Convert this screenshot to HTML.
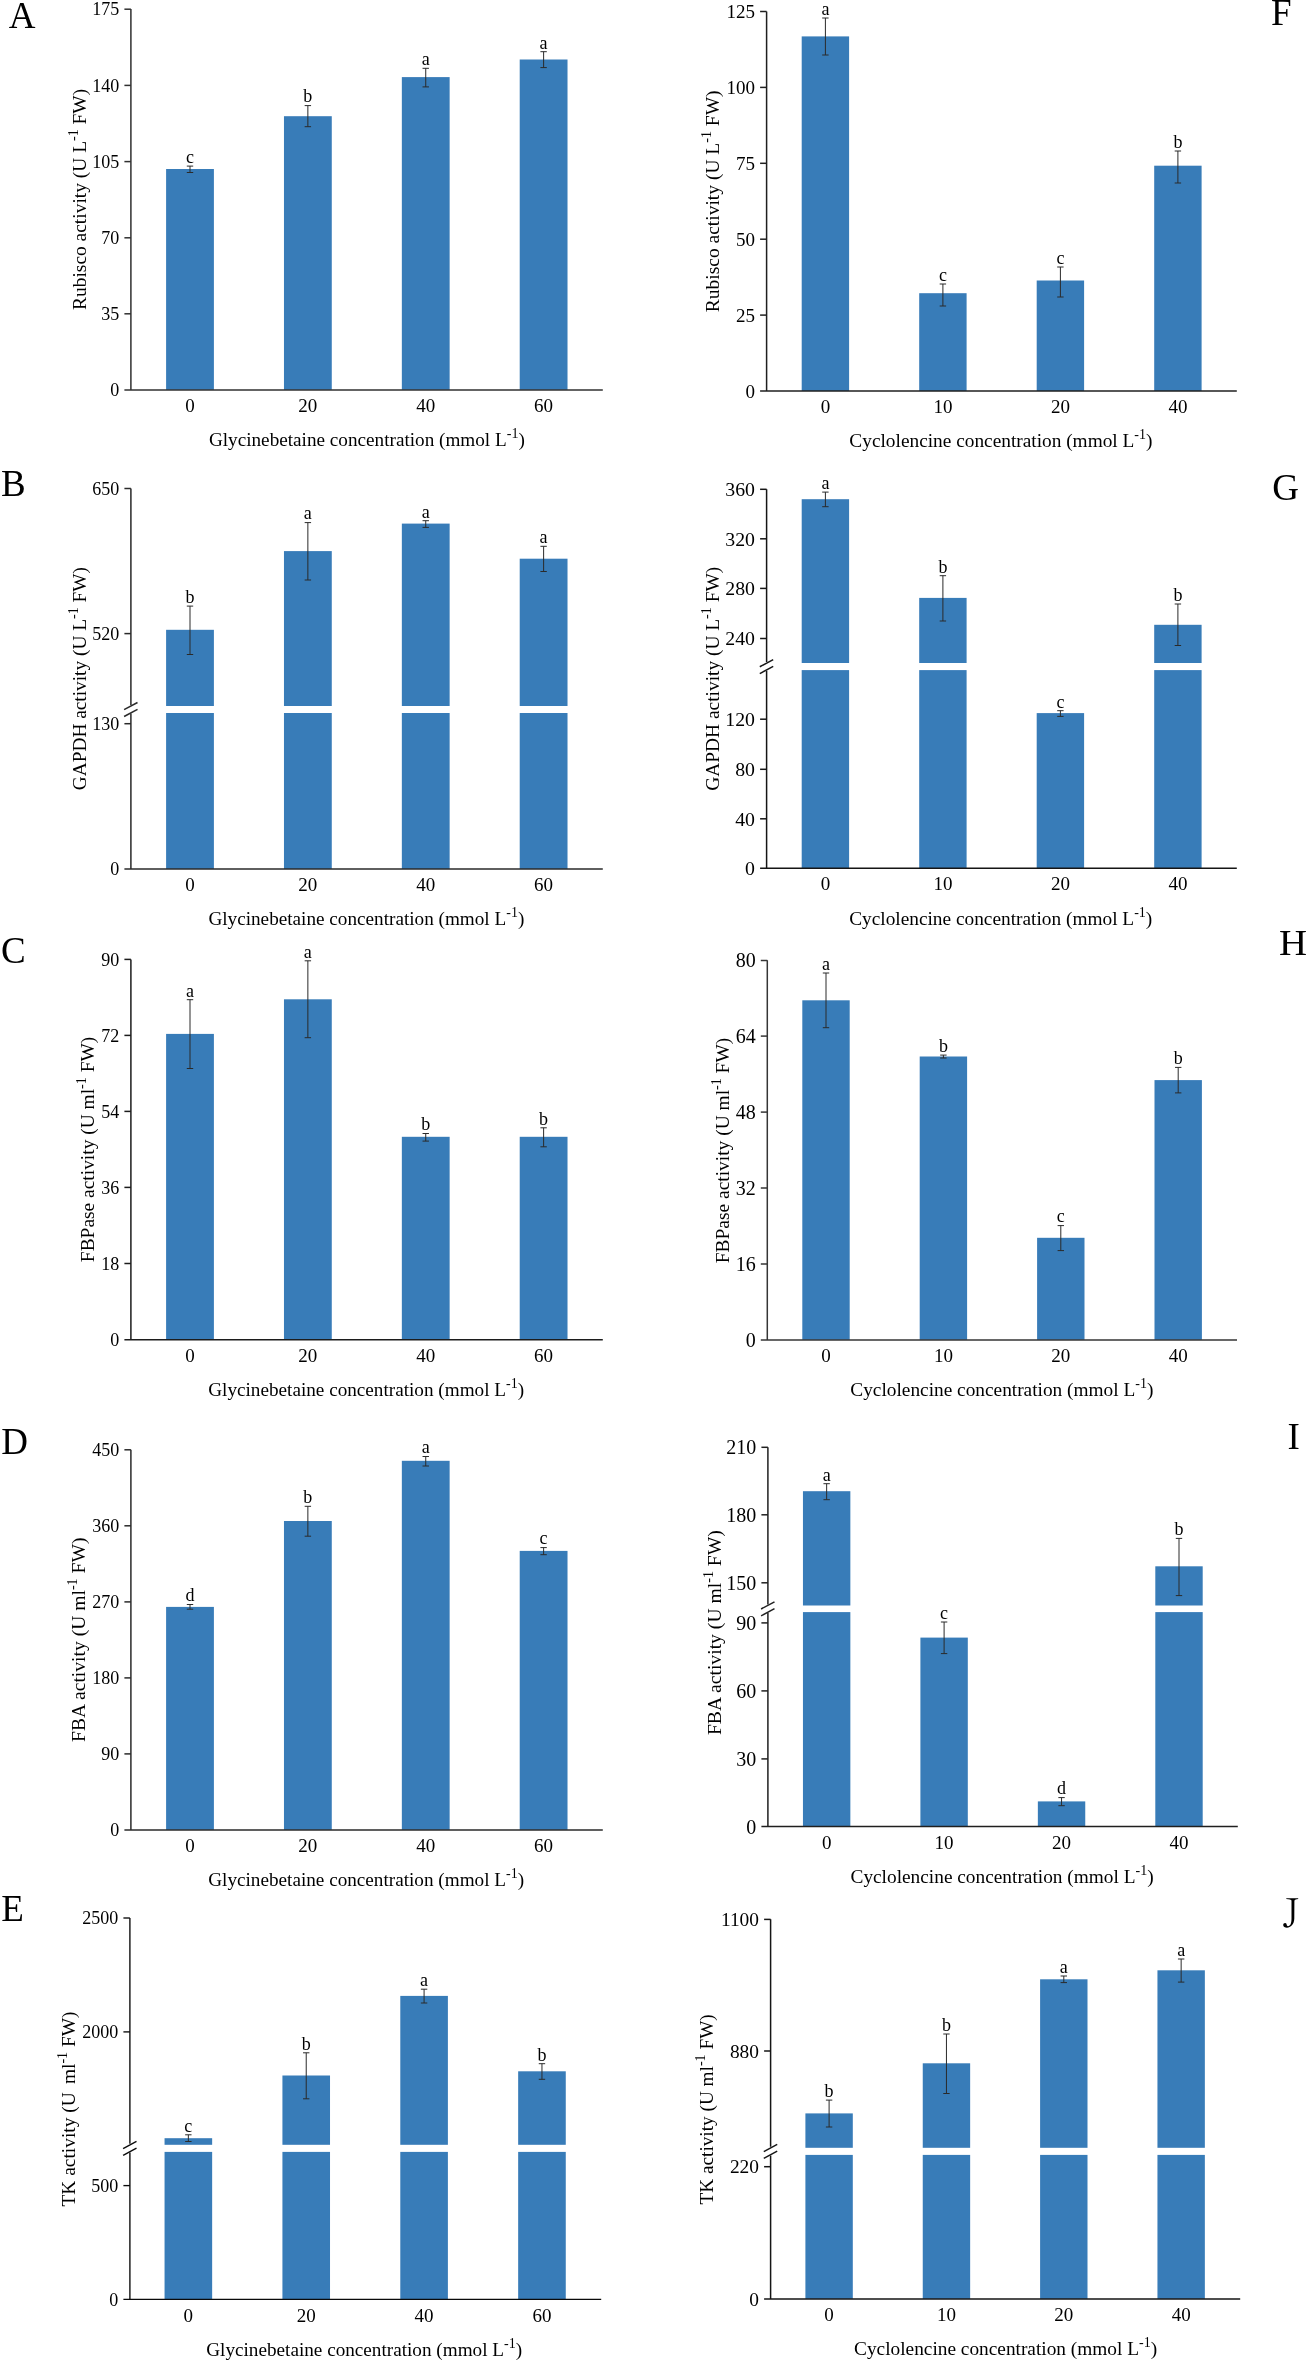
<!DOCTYPE html>
<html><head><meta charset="utf-8"><style>
html,body{margin:0;padding:0;background:#fff;}
svg{display:block;font-family:"Liberation Serif",serif;will-change:transform;}
</style></head><body>
<svg width="1307" height="2362" viewBox="0 0 1307 2362">
<rect width="1307" height="2362" fill="#fff"/>
<g fill="#387CB8"><rect x="166.1" y="169" width="47.8" height="220.9"/><rect x="283.97" y="116.2" width="47.8" height="273.7"/><rect x="401.84" y="77.1" width="47.8" height="312.8"/><rect x="519.71" y="59.5" width="47.8" height="330.4"/></g><g stroke="#303030" stroke-width="1.5" fill="none"><path d="M130.9 9V389.9"/><path d="M124.4 389.9H602.8"/><path d="M124.4 9.2H130.9"/><path d="M124.4 85.4H130.9"/><path d="M124.4 161.6H130.9"/><path d="M124.4 237.8H130.9"/><path d="M124.4 313.8H130.9"/><path d="M190 166.1V172.5M186.8 166.1H193.2M186.8 172.5H193.2" stroke-width="1" stroke="#2a2a2a"/><path d="M307.87 105.6V126.7M304.67 105.6H311.07M304.67 126.7H311.07" stroke-width="1" stroke="#2a2a2a"/><path d="M425.74 68.3V86.9M422.54 68.3H428.94M422.54 86.9H428.94" stroke-width="1" stroke="#2a2a2a"/><path d="M543.61 51.7V67.6M540.41 51.7H546.81M540.41 67.6H546.81" stroke-width="1" stroke="#2a2a2a"/></g><g fill="#000" font-size="18"><text x="119.3" y="15.4" text-anchor="end" font-size="18">175</text><text x="119.3" y="91.6" text-anchor="end" font-size="18">140</text><text x="119.3" y="167.8" text-anchor="end" font-size="18">105</text><text x="119.3" y="244" text-anchor="end" font-size="18">70</text><text x="119.3" y="320" text-anchor="end" font-size="18">35</text><text x="119.3" y="396.2" text-anchor="end" font-size="18">0</text><text x="190" y="412.1" text-anchor="middle" font-size="19">0</text><text x="307.87" y="412.1" text-anchor="middle" font-size="19">20</text><text x="425.74" y="412.1" text-anchor="middle" font-size="19">40</text><text x="543.61" y="412.1" text-anchor="middle" font-size="19">60</text><text x="190" y="162.9" text-anchor="middle" font-size="18">c</text><text x="307.87" y="102.4" text-anchor="middle" font-size="18">b</text><text x="425.74" y="65.1" text-anchor="middle" font-size="18">a</text><text x="543.61" y="48.5" text-anchor="middle" font-size="18">a</text><text x="366.85" y="445.7" text-anchor="middle" font-size="19.2">Glycinebetaine concentration (mmol L<tspan dy="-8" font-size="14">-1</tspan><tspan dy="8">)</tspan></text><text transform="translate(86 199.4) rotate(-90)" text-anchor="middle" font-size="19.44">Rubisco activity (U L<tspan dy="-8" font-size="14">-1</tspan><tspan dy="8"> FW)</tspan></text><text x="8.84" y="28" font-size="37">A</text></g><g fill="#387CB8"><rect x="166.1" y="629.8" width="47.8" height="76.2"/><rect x="166.1" y="713" width="47.8" height="156"/><rect x="283.97" y="551.1" width="47.8" height="154.9"/><rect x="283.97" y="713" width="47.8" height="156"/><rect x="401.84" y="523.6" width="47.8" height="182.4"/><rect x="401.84" y="713" width="47.8" height="156"/><rect x="519.71" y="558.7" width="47.8" height="147.3"/><rect x="519.71" y="713" width="47.8" height="156"/></g><g stroke="#2a2a2a" stroke-width="1.5" fill="none"><path d="M130.9 488.5V705M130.9 713.6V869"/><path d="M124.1 709.7L137.5 702.5"/><path d="M124.1 716.5L137.5 709.3"/><path d="M124.4 869H602.8"/><path d="M124.4 488.5H130.9"/><path d="M124.4 633.6H130.9"/><path d="M124.4 723.7H130.9"/><path d="M190 606.1V654.5M186.8 606.1H193.2M186.8 654.5H193.2" stroke-width="1" stroke="#2a2a2a"/><path d="M307.87 522.6V580M304.67 522.6H311.07M304.67 580H311.07" stroke-width="1" stroke="#2a2a2a"/><path d="M425.74 520.7V527.4M422.54 520.7H428.94M422.54 527.4H428.94" stroke-width="1" stroke="#2a2a2a"/><path d="M543.61 546.3V571.5M540.41 546.3H546.81M540.41 571.5H546.81" stroke-width="1" stroke="#2a2a2a"/></g><g fill="#000" font-size="18"><text x="119.3" y="494.7" text-anchor="end" font-size="18">650</text><text x="119.3" y="639.8" text-anchor="end" font-size="18">520</text><text x="119.3" y="729.9" text-anchor="end" font-size="18">130</text><text x="119.3" y="875.2" text-anchor="end" font-size="18">0</text><text x="190" y="891.2" text-anchor="middle" font-size="19">0</text><text x="307.87" y="891.2" text-anchor="middle" font-size="19">20</text><text x="425.74" y="891.2" text-anchor="middle" font-size="19">40</text><text x="543.61" y="891.2" text-anchor="middle" font-size="19">60</text><text x="190" y="602.9" text-anchor="middle" font-size="18">b</text><text x="307.87" y="519.4" text-anchor="middle" font-size="18">a</text><text x="425.74" y="517.5" text-anchor="middle" font-size="18">a</text><text x="543.61" y="543.1" text-anchor="middle" font-size="18">a</text><text x="366.35" y="925.3" text-anchor="middle" font-size="19.2">Glycinebetaine concentration (mmol L<tspan dy="-8" font-size="14">-1</tspan><tspan dy="8">)</tspan></text><text transform="translate(85.5 678.65) rotate(-90)" text-anchor="middle" font-size="19.34">GAPDH activity (U L<tspan dy="-8" font-size="14">-1</tspan><tspan dy="8"> FW)</tspan></text><text x="1.03" y="495.6" font-size="37">B</text></g><g fill="#387CB8"><rect x="166.1" y="1033.9" width="47.8" height="305.8"/><rect x="283.97" y="999.3" width="47.8" height="340.4"/><rect x="401.84" y="1136.8" width="47.8" height="202.9"/><rect x="519.71" y="1136.8" width="47.8" height="202.9"/></g><g stroke="#1c1c1c" stroke-width="1.5" fill="none"><path d="M130.9 959.4V1339.7"/><path d="M124.4 1339.7H602.8"/><path d="M124.4 959.4H130.9"/><path d="M124.4 1035.4H130.9"/><path d="M124.4 1111.4H130.9"/><path d="M124.4 1187.4H130.9"/><path d="M124.4 1263.5H130.9"/><path d="M190 999.7V1068.5M186.8 999.7H193.2M186.8 1068.5H193.2" stroke-width="1" stroke="#2a2a2a"/><path d="M307.87 960.8V1037.7M304.67 960.8H311.07M304.67 1037.7H311.07" stroke-width="1" stroke="#2a2a2a"/><path d="M425.74 1133.5V1141.1M422.54 1133.5H428.94M422.54 1141.1H428.94" stroke-width="1" stroke="#2a2a2a"/><path d="M543.61 1127.8V1146.8M540.41 1127.8H546.81M540.41 1146.8H546.81" stroke-width="1" stroke="#2a2a2a"/></g><g fill="#000" font-size="18"><text x="119.3" y="965.6" text-anchor="end" font-size="18">90</text><text x="119.3" y="1041.6" text-anchor="end" font-size="18">72</text><text x="119.3" y="1117.6" text-anchor="end" font-size="18">54</text><text x="119.3" y="1193.6" text-anchor="end" font-size="18">36</text><text x="119.3" y="1269.7" text-anchor="end" font-size="18">18</text><text x="119.3" y="1345.7" text-anchor="end" font-size="18">0</text><text x="190" y="1361.9" text-anchor="middle" font-size="19">0</text><text x="307.87" y="1361.9" text-anchor="middle" font-size="19">20</text><text x="425.74" y="1361.9" text-anchor="middle" font-size="19">40</text><text x="543.61" y="1361.9" text-anchor="middle" font-size="19">60</text><text x="190" y="996.5" text-anchor="middle" font-size="18">a</text><text x="307.87" y="957.6" text-anchor="middle" font-size="18">a</text><text x="425.74" y="1130.3" text-anchor="middle" font-size="18">b</text><text x="543.61" y="1124.6" text-anchor="middle" font-size="18">b</text><text x="366.15" y="1395.7" text-anchor="middle" font-size="19.2">Glycinebetaine concentration (mmol L<tspan dy="-8" font-size="14">-1</tspan><tspan dy="8">)</tspan></text><text transform="translate(94 1149.45) rotate(-90)" text-anchor="middle" font-size="19.44">FBPase activity (U ml<tspan dy="-8" font-size="14">-1</tspan><tspan dy="8"> FW)</tspan></text><text x="0.88" y="962.9" font-size="37">C</text></g><g fill="#387CB8"><rect x="166.1" y="1606.9" width="47.8" height="223"/><rect x="283.97" y="1521" width="47.8" height="308.9"/><rect x="401.84" y="1460.8" width="47.8" height="369.1"/><rect x="519.71" y="1550.9" width="47.8" height="279"/></g><g stroke="#2a2a2a" stroke-width="1.5" fill="none"><path d="M130.9 1449.8V1829.9"/><path d="M124.4 1829.9H602.8"/><path d="M124.4 1449.8H130.9"/><path d="M124.4 1525.8H130.9"/><path d="M124.4 1601.9H130.9"/><path d="M124.4 1677.9H130.9"/><path d="M124.4 1753.9H130.9"/><path d="M190 1604.5V1609.2M186.8 1604.5H193.2M186.8 1609.2H193.2" stroke-width="1" stroke="#2a2a2a"/><path d="M307.87 1506.3V1536.2M304.67 1506.3H311.07M304.67 1536.2H311.07" stroke-width="1" stroke="#2a2a2a"/><path d="M425.74 1456.5V1466M422.54 1456.5H428.94M422.54 1466H428.94" stroke-width="1" stroke="#2a2a2a"/><path d="M543.61 1547.6V1554.7M540.41 1547.6H546.81M540.41 1554.7H546.81" stroke-width="1" stroke="#2a2a2a"/></g><g fill="#000" font-size="18"><text x="119.3" y="1456" text-anchor="end" font-size="18">450</text><text x="119.3" y="1532" text-anchor="end" font-size="18">360</text><text x="119.3" y="1608.1" text-anchor="end" font-size="18">270</text><text x="119.3" y="1684.1" text-anchor="end" font-size="18">180</text><text x="119.3" y="1760.1" text-anchor="end" font-size="18">90</text><text x="119.3" y="1836.2" text-anchor="end" font-size="18">0</text><text x="190" y="1852.1" text-anchor="middle" font-size="19">0</text><text x="307.87" y="1852.1" text-anchor="middle" font-size="19">20</text><text x="425.74" y="1852.1" text-anchor="middle" font-size="19">40</text><text x="543.61" y="1852.1" text-anchor="middle" font-size="19">60</text><text x="190" y="1601.3" text-anchor="middle" font-size="18">d</text><text x="307.87" y="1503.1" text-anchor="middle" font-size="18">b</text><text x="425.74" y="1453.3" text-anchor="middle" font-size="18">a</text><text x="543.61" y="1544.4" text-anchor="middle" font-size="18">c</text><text x="366.15" y="1886.1" text-anchor="middle" font-size="19.2">Glycinebetaine concentration (mmol L<tspan dy="-8" font-size="14">-1</tspan><tspan dy="8">)</tspan></text><text transform="translate(85.2 1639.75) rotate(-90)" text-anchor="middle" font-size="19.6">FBA activity (U ml<tspan dy="-8" font-size="14">-1</tspan><tspan dy="8"> FW)</tspan></text><text x="1.33" y="1453.5" font-size="37">D</text></g><g fill="#387CB8"><rect x="164.55" y="2138.2" width="47.6" height="6.6"/><rect x="164.55" y="2151.9" width="47.6" height="147.5"/><rect x="282.42" y="2075.5" width="47.6" height="69.3"/><rect x="282.42" y="2151.9" width="47.6" height="147.5"/><rect x="400.29" y="1995.9" width="47.6" height="148.9"/><rect x="400.29" y="2151.9" width="47.6" height="147.5"/><rect x="518.16" y="2071.3" width="47.6" height="73.5"/><rect x="518.16" y="2151.9" width="47.6" height="147.5"/></g><g stroke="#0a0a0a" stroke-width="1.35" fill="none"><path d="M129.9 1918V2143.8M129.9 2152.5V2299.4"/><path d="M123.1 2148.55L136.5 2141.35"/><path d="M123.1 2155.35L136.5 2148.15"/><path d="M123.4 2299.4H601.2"/><path d="M123.4 1918H129.9"/><path d="M123.4 2031.9H129.9"/><path d="M123.4 2185.6H129.9"/><path d="M188.35 2134.8V2141.5M185.15 2134.8H191.55M185.15 2141.5H191.55" stroke-width="1" stroke="#2a2a2a"/><path d="M306.22 2052.8V2098.8M303.02 2052.8H309.42M303.02 2098.8H309.42" stroke-width="1" stroke="#2a2a2a"/><path d="M424.09 1989.2V2003M420.89 1989.2H427.29M420.89 2003H427.29" stroke-width="1" stroke="#2a2a2a"/><path d="M541.96 2063.7V2079.3M538.76 2063.7H545.16M538.76 2079.3H545.16" stroke-width="1" stroke="#2a2a2a"/></g><g fill="#000" font-size="18"><text x="118.3" y="1924.2" text-anchor="end" font-size="18">2500</text><text x="118.3" y="2038.1" text-anchor="end" font-size="18">2000</text><text x="118.3" y="2191.8" text-anchor="end" font-size="18">500</text><text x="118.3" y="2305.7" text-anchor="end" font-size="18">0</text><text x="188.35" y="2321.6" text-anchor="middle" font-size="19">0</text><text x="306.22" y="2321.6" text-anchor="middle" font-size="19">20</text><text x="424.09" y="2321.6" text-anchor="middle" font-size="19">40</text><text x="541.96" y="2321.6" text-anchor="middle" font-size="19">60</text><text x="188.35" y="2131.6" text-anchor="middle" font-size="18">c</text><text x="306.22" y="2049.6" text-anchor="middle" font-size="18">b</text><text x="424.09" y="1986" text-anchor="middle" font-size="18">a</text><text x="541.96" y="2060.5" text-anchor="middle" font-size="18">b</text><text x="364.15" y="2355.7" text-anchor="middle" font-size="19.2">Glycinebetaine concentration (mmol L<tspan dy="-8" font-size="14">-1</tspan><tspan dy="8">)</tspan></text><text transform="translate(75.2 2109) rotate(-90)" text-anchor="middle" font-size="19.45">TK activity (U<tspan dx="3.2"> ml</tspan><tspan dy="-8" font-size="14">-1</tspan><tspan dy="8"> FW)</tspan></text><text x="1.33" y="1920.9" font-size="37">E</text></g><g fill="#387CB8"><rect x="801.7" y="36.4" width="47.4" height="354.6"/><rect x="919.2" y="293.2" width="47.4" height="97.8"/><rect x="1036.7" y="280.5" width="47.4" height="110.5"/><rect x="1154.2" y="165.7" width="47.4" height="225.3"/></g><g stroke="#1f1f1f" stroke-width="1.5" fill="none"><path d="M766.6 11.5V391"/><path d="M760.1 391H1236.8"/><path d="M760.1 11.5H766.6"/><path d="M760.1 87.4H766.6"/><path d="M760.1 163.3H766.6"/><path d="M760.1 239.2H766.6"/><path d="M760.1 315.1H766.6"/><path d="M825.4 18V55M822.2 18H828.6M822.2 55H828.6" stroke-width="1" stroke="#2a2a2a"/><path d="M942.9 284V306M939.7 284H946.1M939.7 306H946.1" stroke-width="1" stroke="#2a2a2a"/><path d="M1060.4 267V297M1057.2 267H1063.6M1057.2 297H1063.6" stroke-width="1" stroke="#2a2a2a"/><path d="M1177.9 151V183M1174.7 151H1181.1M1174.7 183H1181.1" stroke-width="1" stroke="#2a2a2a"/></g><g fill="#000" font-size="18"><text x="755" y="18.04" text-anchor="end" font-size="19">125</text><text x="755" y="93.94" text-anchor="end" font-size="19">100</text><text x="755" y="169.84" text-anchor="end" font-size="19">75</text><text x="755" y="245.74" text-anchor="end" font-size="19">50</text><text x="755" y="321.64" text-anchor="end" font-size="19">25</text><text x="755" y="397.54" text-anchor="end" font-size="19">0</text><text x="825.4" y="413.2" text-anchor="middle" font-size="19">0</text><text x="942.9" y="413.2" text-anchor="middle" font-size="19">10</text><text x="1060.4" y="413.2" text-anchor="middle" font-size="19">20</text><text x="1177.9" y="413.2" text-anchor="middle" font-size="19">40</text><text x="825.4" y="14.8" text-anchor="middle" font-size="18">a</text><text x="942.9" y="280.8" text-anchor="middle" font-size="18">c</text><text x="1060.4" y="263.8" text-anchor="middle" font-size="18">c</text><text x="1177.9" y="147.8" text-anchor="middle" font-size="18">b</text><text x="1000.9" y="447.3" text-anchor="middle" font-size="19.33">Cyclolencine concentration (mmol L<tspan dy="-8" font-size="14">-1</tspan><tspan dy="8">)</tspan></text><text transform="translate(718.9 201.35) rotate(-90)" text-anchor="middle" font-size="19.5">Rubisco activity (U L<tspan dy="-8" font-size="14">-1</tspan><tspan dy="8"> FW)</tspan></text><text x="1270.9" y="25" font-size="37">F</text></g><g fill="#387CB8"><rect x="801.7" y="499.2" width="47.4" height="163.8"/><rect x="801.7" y="670.1" width="47.4" height="198.1"/><rect x="919.2" y="597.9" width="47.4" height="65.1"/><rect x="919.2" y="670.1" width="47.4" height="198.1"/><rect x="1036.7" y="713.1" width="47.4" height="155.1"/><rect x="1154.2" y="624.8" width="47.4" height="38.2"/><rect x="1154.2" y="670.1" width="47.4" height="198.1"/></g><g stroke="#151515" stroke-width="1.5" fill="none"><path d="M766.6 489.3V662M766.6 670.7V868.2"/><path d="M759.8 666.75L773.2 659.55"/><path d="M759.8 673.55L773.2 666.35"/><path d="M760.1 868.2H1236.8"/><path d="M760.1 489.3H766.6"/><path d="M760.1 538.8H766.6"/><path d="M760.1 588.4H766.6"/><path d="M760.1 638.5H766.6"/><path d="M760.1 719.2H766.6"/><path d="M760.1 769.3H766.6"/><path d="M760.1 818.8H766.6"/><path d="M825.4 492.1V506.7M822.2 492.1H828.6M822.2 506.7H828.6" stroke-width="1" stroke="#2a2a2a"/><path d="M942.9 575.7V621M939.7 575.7H946.1M939.7 621H946.1" stroke-width="1" stroke="#2a2a2a"/><path d="M1060.4 710.7V716.4M1057.2 710.7H1063.6M1057.2 716.4H1063.6" stroke-width="1" stroke="#2a2a2a"/><path d="M1177.9 604V645.5M1174.7 604H1181.1M1174.7 645.5H1181.1" stroke-width="1" stroke="#2a2a2a"/></g><g fill="#000" font-size="18"><text x="755" y="496.12" text-anchor="end" font-size="19.8">360</text><text x="755" y="545.62" text-anchor="end" font-size="19.8">320</text><text x="755" y="595.22" text-anchor="end" font-size="19.8">280</text><text x="755" y="645.32" text-anchor="end" font-size="19.8">240</text><text x="755" y="726.02" text-anchor="end" font-size="19.8">120</text><text x="755" y="776.12" text-anchor="end" font-size="19.8">80</text><text x="755" y="825.62" text-anchor="end" font-size="19.8">40</text><text x="755" y="875.22" text-anchor="end" font-size="19.8">0</text><text x="825.4" y="890.4" text-anchor="middle" font-size="19">0</text><text x="942.9" y="890.4" text-anchor="middle" font-size="19">10</text><text x="1060.4" y="890.4" text-anchor="middle" font-size="19">20</text><text x="1177.9" y="890.4" text-anchor="middle" font-size="19">40</text><text x="825.4" y="488.9" text-anchor="middle" font-size="18">a</text><text x="942.9" y="572.5" text-anchor="middle" font-size="18">b</text><text x="1060.4" y="707.5" text-anchor="middle" font-size="18">c</text><text x="1177.9" y="600.8" text-anchor="middle" font-size="18">b</text><text x="1000.7" y="925" text-anchor="middle" font-size="19.33">Cyclolencine concentration (mmol L<tspan dy="-8" font-size="14">-1</tspan><tspan dy="8">)</tspan></text><text transform="translate(718.7 678.75) rotate(-90)" text-anchor="middle" font-size="19.4">GAPDH activity (U L<tspan dy="-8" font-size="14">-1</tspan><tspan dy="8"> FW)</tspan></text><text x="1272.2" y="499.5" font-size="37">G</text></g><g fill="#387CB8"><rect x="802.3" y="1000.3" width="47.4" height="339.6"/><rect x="919.7" y="1056.5" width="47.4" height="283.4"/><rect x="1037.1" y="1237.8" width="47.4" height="102.1"/><rect x="1154.5" y="1080.1" width="47.4" height="259.8"/></g><g stroke="#353535" stroke-width="1.5" fill="none"><path d="M767.3 960.2V1339.9"/><path d="M760.8 1339.9H1237"/><path d="M760.8 960.5H767.3"/><path d="M760.8 1036.1H767.3"/><path d="M760.8 1112.1H767.3"/><path d="M760.8 1188H767.3"/><path d="M760.8 1264H767.3"/><path d="M826 973V1027.7M822.8 973H829.2M822.8 1027.7H829.2" stroke-width="1" stroke="#2a2a2a"/><path d="M943.4 1055.1V1058M940.2 1055.1H946.6M940.2 1058H946.6" stroke-width="1" stroke="#2a2a2a"/><path d="M1060.8 1225.6V1250.6M1057.6 1225.6H1064M1057.6 1250.6H1064" stroke-width="1" stroke="#2a2a2a"/><path d="M1178.2 1067.4V1092.9M1175 1067.4H1181.4M1175 1092.9H1181.4" stroke-width="1" stroke="#2a2a2a"/></g><g fill="#000" font-size="18"><text x="755.7" y="967.39" text-anchor="end" font-size="20">80</text><text x="755.7" y="1042.99" text-anchor="end" font-size="20">64</text><text x="755.7" y="1118.99" text-anchor="end" font-size="20">48</text><text x="755.7" y="1194.89" text-anchor="end" font-size="20">32</text><text x="755.7" y="1270.89" text-anchor="end" font-size="20">16</text><text x="755.7" y="1346.69" text-anchor="end" font-size="20">0</text><text x="826" y="1362.1" text-anchor="middle" font-size="19">0</text><text x="943.4" y="1362.1" text-anchor="middle" font-size="19">10</text><text x="1060.8" y="1362.1" text-anchor="middle" font-size="19">20</text><text x="1178.2" y="1362.1" text-anchor="middle" font-size="19">40</text><text x="826" y="969.8" text-anchor="middle" font-size="18">a</text><text x="943.4" y="1051.9" text-anchor="middle" font-size="18">b</text><text x="1060.8" y="1222.4" text-anchor="middle" font-size="18">c</text><text x="1178.2" y="1064.2" text-anchor="middle" font-size="18">b</text><text x="1001.85" y="1396.2" text-anchor="middle" font-size="19.33">Cyclolencine concentration (mmol L<tspan dy="-8" font-size="14">-1</tspan><tspan dy="8">)</tspan></text><text transform="translate(728.7 1150.5) rotate(-90)" text-anchor="middle" font-size="19.47">FBPase activity (U ml<tspan dy="-8" font-size="14">-1</tspan><tspan dy="8"> FW)</tspan></text><text transform="translate(1278.9 955) scale(1.05 0.95)" font-size="37">H</text></g><g fill="#387CB8"><rect x="802.95" y="1491.2" width="47.4" height="114.3"/><rect x="802.95" y="1612.1" width="47.4" height="214.5"/><rect x="920.4" y="1637.6" width="47.4" height="189"/><rect x="1037.85" y="1801.4" width="47.4" height="25.2"/><rect x="1155.3" y="1566.3" width="47.4" height="39.2"/><rect x="1155.3" y="1612.1" width="47.4" height="214.5"/></g><g stroke="#202020" stroke-width="1.5" fill="none"><path d="M767.9 1447.3V1604.5M767.9 1612.7V1826.6"/><path d="M761.1 1609L774.5 1601.8"/><path d="M761.1 1615.8L774.5 1608.6"/><path d="M761.4 1826.6H1237.8"/><path d="M761.4 1447.3H767.9"/><path d="M761.4 1514.8H767.9"/><path d="M761.4 1582.8H767.9"/><path d="M761.4 1622.9H767.9"/><path d="M761.4 1690.9H767.9"/><path d="M761.4 1758.9H767.9"/><path d="M826.65 1483.7V1499.7M823.45 1483.7H829.85M823.45 1499.7H829.85" stroke-width="1" stroke="#2a2a2a"/><path d="M944.1 1622V1653.6M940.9 1622H947.3M940.9 1653.6H947.3" stroke-width="1" stroke="#2a2a2a"/><path d="M1061.55 1797.6V1805.7M1058.35 1797.6H1064.75M1058.35 1805.7H1064.75" stroke-width="1" stroke="#2a2a2a"/><path d="M1179 1538.4V1595.6M1175.8 1538.4H1182.2M1175.8 1595.6H1182.2" stroke-width="1" stroke="#2a2a2a"/></g><g fill="#000" font-size="18"><text x="756.3" y="1454.19" text-anchor="end" font-size="20">210</text><text x="756.3" y="1521.69" text-anchor="end" font-size="20">180</text><text x="756.3" y="1589.69" text-anchor="end" font-size="20">150</text><text x="756.3" y="1629.79" text-anchor="end" font-size="20">90</text><text x="756.3" y="1697.79" text-anchor="end" font-size="20">60</text><text x="756.3" y="1765.79" text-anchor="end" font-size="20">30</text><text x="756.3" y="1833.79" text-anchor="end" font-size="20">0</text><text x="826.65" y="1848.8" text-anchor="middle" font-size="19">0</text><text x="944.1" y="1848.8" text-anchor="middle" font-size="19">10</text><text x="1061.55" y="1848.8" text-anchor="middle" font-size="19">20</text><text x="1179" y="1848.8" text-anchor="middle" font-size="19">40</text><text x="826.65" y="1480.5" text-anchor="middle" font-size="18">a</text><text x="944.1" y="1618.8" text-anchor="middle" font-size="18">c</text><text x="1061.55" y="1794.4" text-anchor="middle" font-size="18">d</text><text x="1179" y="1535.2" text-anchor="middle" font-size="18">b</text><text x="1002.05" y="1883.2" text-anchor="middle" font-size="19.33">Cyclolencine concentration (mmol L<tspan dy="-8" font-size="14">-1</tspan><tspan dy="8">)</tspan></text><text transform="translate(720.7 1632.6) rotate(-90)" text-anchor="middle" font-size="19.67">FBA activity (U ml<tspan dy="-8" font-size="14">-1</tspan><tspan dy="8"> FW)</tspan></text><text x="1287.6" y="1448.6" font-size="37">I</text></g><g fill="#387CB8"><rect x="805.4" y="2113.4" width="47.4" height="34.4"/><rect x="805.4" y="2154.9" width="47.4" height="144"/><rect x="922.75" y="2063.3" width="47.4" height="84.5"/><rect x="922.75" y="2154.9" width="47.4" height="144"/><rect x="1040.1" y="1979.3" width="47.4" height="168.5"/><rect x="1040.1" y="2154.9" width="47.4" height="144"/><rect x="1157.45" y="1970.3" width="47.4" height="177.5"/><rect x="1157.45" y="2154.9" width="47.4" height="144"/></g><g stroke="#151515" stroke-width="1.5" fill="none"><path d="M770.6 1919.3V2146.8M770.6 2155.5V2298.9"/><path d="M763.8 2151.55L777.2 2144.35"/><path d="M763.8 2158.35L777.2 2151.15"/><path d="M764.1 2298.9H1240.2"/><path d="M764.1 1919.4H770.6"/><path d="M764.1 2051H770.6"/><path d="M764.1 2166.7H770.6"/><path d="M829.1 2100.1V2127M825.9 2100.1H832.3M825.9 2127H832.3" stroke-width="1" stroke="#2a2a2a"/><path d="M946.45 2034V2093.5M943.25 2034H949.65M943.25 2093.5H949.65" stroke-width="1" stroke="#2a2a2a"/><path d="M1063.8 1976V1982.6M1060.6 1976H1067M1060.6 1982.6H1067" stroke-width="1" stroke="#2a2a2a"/><path d="M1181.15 1959V1982.1M1177.95 1959H1184.35M1177.95 1982.1H1184.35" stroke-width="1" stroke="#2a2a2a"/></g><g fill="#000" font-size="18"><text x="759" y="1926.08" text-anchor="end" font-size="19.4">1100</text><text x="759" y="2057.68" text-anchor="end" font-size="19.4">880</text><text x="759" y="2173.38" text-anchor="end" font-size="19.4">220</text><text x="759" y="2305.58" text-anchor="end" font-size="19.4">0</text><text x="829.1" y="2321.1" text-anchor="middle" font-size="19">0</text><text x="946.45" y="2321.1" text-anchor="middle" font-size="19">10</text><text x="1063.8" y="2321.1" text-anchor="middle" font-size="19">20</text><text x="1181.15" y="2321.1" text-anchor="middle" font-size="19">40</text><text x="829.1" y="2096.9" text-anchor="middle" font-size="18">b</text><text x="946.45" y="2030.8" text-anchor="middle" font-size="18">b</text><text x="1063.8" y="1972.8" text-anchor="middle" font-size="18">a</text><text x="1181.15" y="1955.8" text-anchor="middle" font-size="18">a</text><text x="1005.6" y="2354.7" text-anchor="middle" font-size="19.33">Cyclolencine concentration (mmol L<tspan dy="-8" font-size="14">-1</tspan><tspan dy="8">)</tspan></text><text transform="translate(713 2109.4) rotate(-90)" text-anchor="middle" font-size="19.26">TK activity (U ml<tspan dy="-8" font-size="14">-1</tspan><tspan dy="8"> FW)</tspan></text><path transform="translate(0 0.6)" d="M1286.3 1897.6L1298.2 1897.6L1298.2 1898.3Q1295 1898.7 1294.4 1900L1294.3 1918C1294.2 1924 1290.5 1927.2 1287 1927.2C1285 1927.2 1283.2 1926.2 1283.2 1924.5C1283.2 1923.3 1284 1922.4 1285.1 1922.4C1286.3 1922.4 1286.6 1923.4 1286.7 1924.2C1286.8 1925.1 1287.3 1925.6 1288 1925.6C1290.3 1925.6 1291.5 1923 1291.5 1918L1291.5 1900Q1291 1898.7 1286.3 1898.3Z"/></g>
</svg>
</body></html>
